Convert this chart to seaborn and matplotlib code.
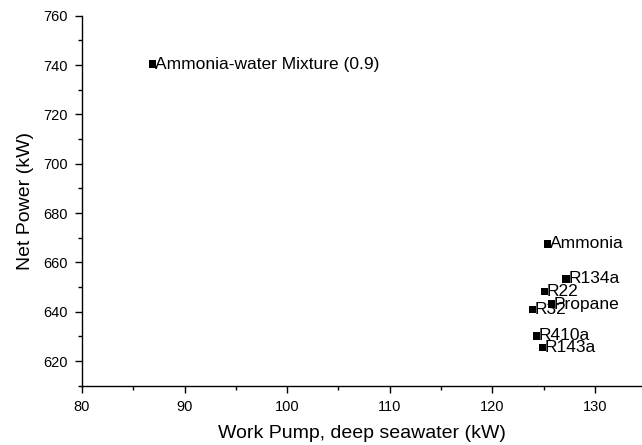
import matplotlib
matplotlib.use("Agg")
import matplotlib.pyplot as plt
import seaborn as sns
import pandas as pd
from matplotlib.ticker import MultipleLocator

# values
fluids = ["Ammonia-water Mixture (0.9)", "Ammonia", "R134a", "R22", "Propane",
          "R32", "R410a", "R143a"]
work_pump = [86.9, 125.4, 127.2, 125.1, 125.8, 123.9, 124.3, 124.9]
net_power = [740.4, 667.5, 653.3, 648.1, 643.1, 641.0, 630.2, 625.6]

df = pd.DataFrame({"fluid": fluids, "work_pump": work_pump, "net_power": net_power})

sns.set_style("ticks")
plt.rcParams["font.family"] = ["Liberation Sans", "DejaVu Sans"]

fig = plt.figure(figsize=(6.42, 4.45), dpi=100)
ax = fig.add_axes([82 / 642, 1 - 385.7 / 445, 1 - 82 / 642, (385.7 - 15.7) / 445])

sns.scatterplot(data=df, x="work_pump", y="net_power", marker="s", color="black",
                s=28, edgecolor="none", ax=ax, clip_on=False)

# labels start on the marker, as in the original
for _, row in df.iterrows():
    ax.annotate(row["fluid"], (row["work_pump"], row["net_power"]),
                xytext=(1.5, 0), textcoords="offset points",
                ha="left", va="center", fontsize=12.5, color="black")

ax.set_xlim(80, 134.6)
ax.set_ylim(610, 760)
ax.xaxis.set_major_locator(MultipleLocator(10))
ax.xaxis.set_minor_locator(MultipleLocator(5))
ax.yaxis.set_major_locator(MultipleLocator(20))
ax.yaxis.set_minor_locator(MultipleLocator(10))
ax.tick_params(which="major", direction="out", length=5, width=1, labelsize=10.5,
               color="black", labelcolor="black", pad=5)
ax.tick_params(which="minor", direction="out", length=3, width=1, color="black")

ax.set_xlabel("Work Pump, deep seawater (kW)", fontsize=14, color="black", labelpad=8)
ax.set_ylabel("Net Power (kW)", fontsize=14, color="black", labelpad=7)

sns.despine(ax=ax)
for s in ["left", "bottom"]:
    ax.spines[s].set_color("black")
    ax.spines[s].set_linewidth(1)

fig.savefig("out.png", dpi=100)
